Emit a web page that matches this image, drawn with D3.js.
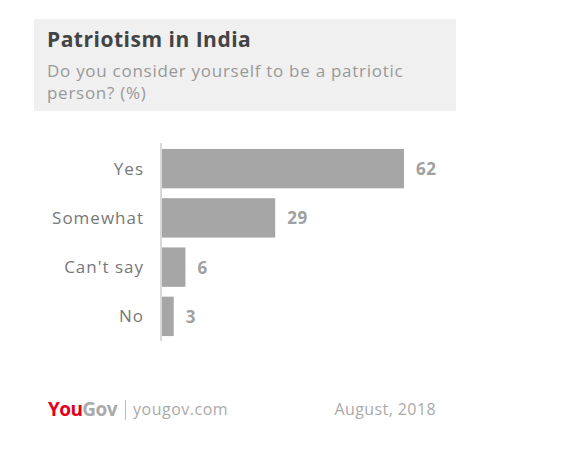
<!DOCTYPE html>
<html><head><meta charset="utf-8">
<script src="https://cdn.jsdelivr.net/npm/d3@7"></script>
<style>body{margin:0;background:#fff;}svg{display:block;font-family:"Open Sans",sans-serif;}</style>
</head><body>
<svg id="c" width="561" height="465"></svg>
<script>
const categories = ["Yes", "Somewhat", "Can't say", "No"];
const values = [62, 29, 6, 3];
const title = "Patriotism in India";
const subtitle = ["Do you consider yourself to be a patriotic", "person? (%)"];

const svg = d3.select("#c");
svg.append("rect").attr("x",34).attr("y",19).attr("width",422).attr("height",92).attr("fill","#f0f0f0");
svg.append("text").attr("x",47).attr("y",47).attr("font-size",21).attr("font-weight","bold").attr("fill","#444").attr("letter-spacing","0.5").text(title);
svg.selectAll("text.sub").data(subtitle).join("text").attr("class","sub")
  .attr("x",47).attr("y",(d,i)=>77+i*22).attr("font-size",17).attr("fill","#999").attr("letter-spacing","0.72").text(d=>d);

const x = d3.scaleLinear().domain([0,62]).range([162,404]);
const y = d3.scaleBand().domain(categories).range([144,341]).paddingInner(0.2).paddingOuter(0.1);

svg.append("g").selectAll("rect").data(values).join("rect")
  .attr("x",x(0)).attr("y",(d,i)=>y(categories[i]))
  .attr("width",d=>x(d)-x(0)).attr("height",y.bandwidth()).attr("fill","#a6a6a6");

svg.append("line").attr("x1",161).attr("x2",161).attr("y1",143).attr("y2",341).attr("stroke","#ccc").attr("stroke-width",1.5);

svg.append("g").selectAll("text").data(categories).join("text")
  .attr("x",144).attr("y",d=>y(d)+y.bandwidth()/2).attr("dy","0.35em")
  .attr("text-anchor","end").attr("font-size",17).attr("fill","#777").attr("letter-spacing","1").text(d=>d);

svg.append("g").selectAll("text").data(values).join("text")
  .attr("x",d=>x(d)+12).attr("y",(d,i)=>y(categories[i])+y.bandwidth()/2).attr("dy","0.38em")
  .attr("font-size",17).attr("font-weight","bold").attr("fill","#a0a0a0").attr("letter-spacing","0.5").text(d=>d);

const f = svg.append("text").attr("x",48).attr("y",416).attr("font-size",19);
f.append("tspan").attr("fill","#e4001b").attr("font-weight","bold").attr("letter-spacing","-0.6").text("You");
f.append("tspan").attr("fill","#aaa").attr("font-weight","bold").attr("letter-spacing","-0.6").text("Gov");
svg.append("line").attr("x1",125.5).attr("x2",125.5).attr("y1",400).attr("y2",420).attr("stroke","#bbb");
svg.append("text").attr("x",133).attr("y",415).attr("font-size",16).attr("fill","#aaa").attr("letter-spacing","0.5").text("yougov.com");
svg.append("text").attr("x",436).attr("y",415).attr("text-anchor","end").attr("font-size",16).attr("fill","#aaa").attr("letter-spacing","0.4").text("August, 2018");
</script>
</body></html>
